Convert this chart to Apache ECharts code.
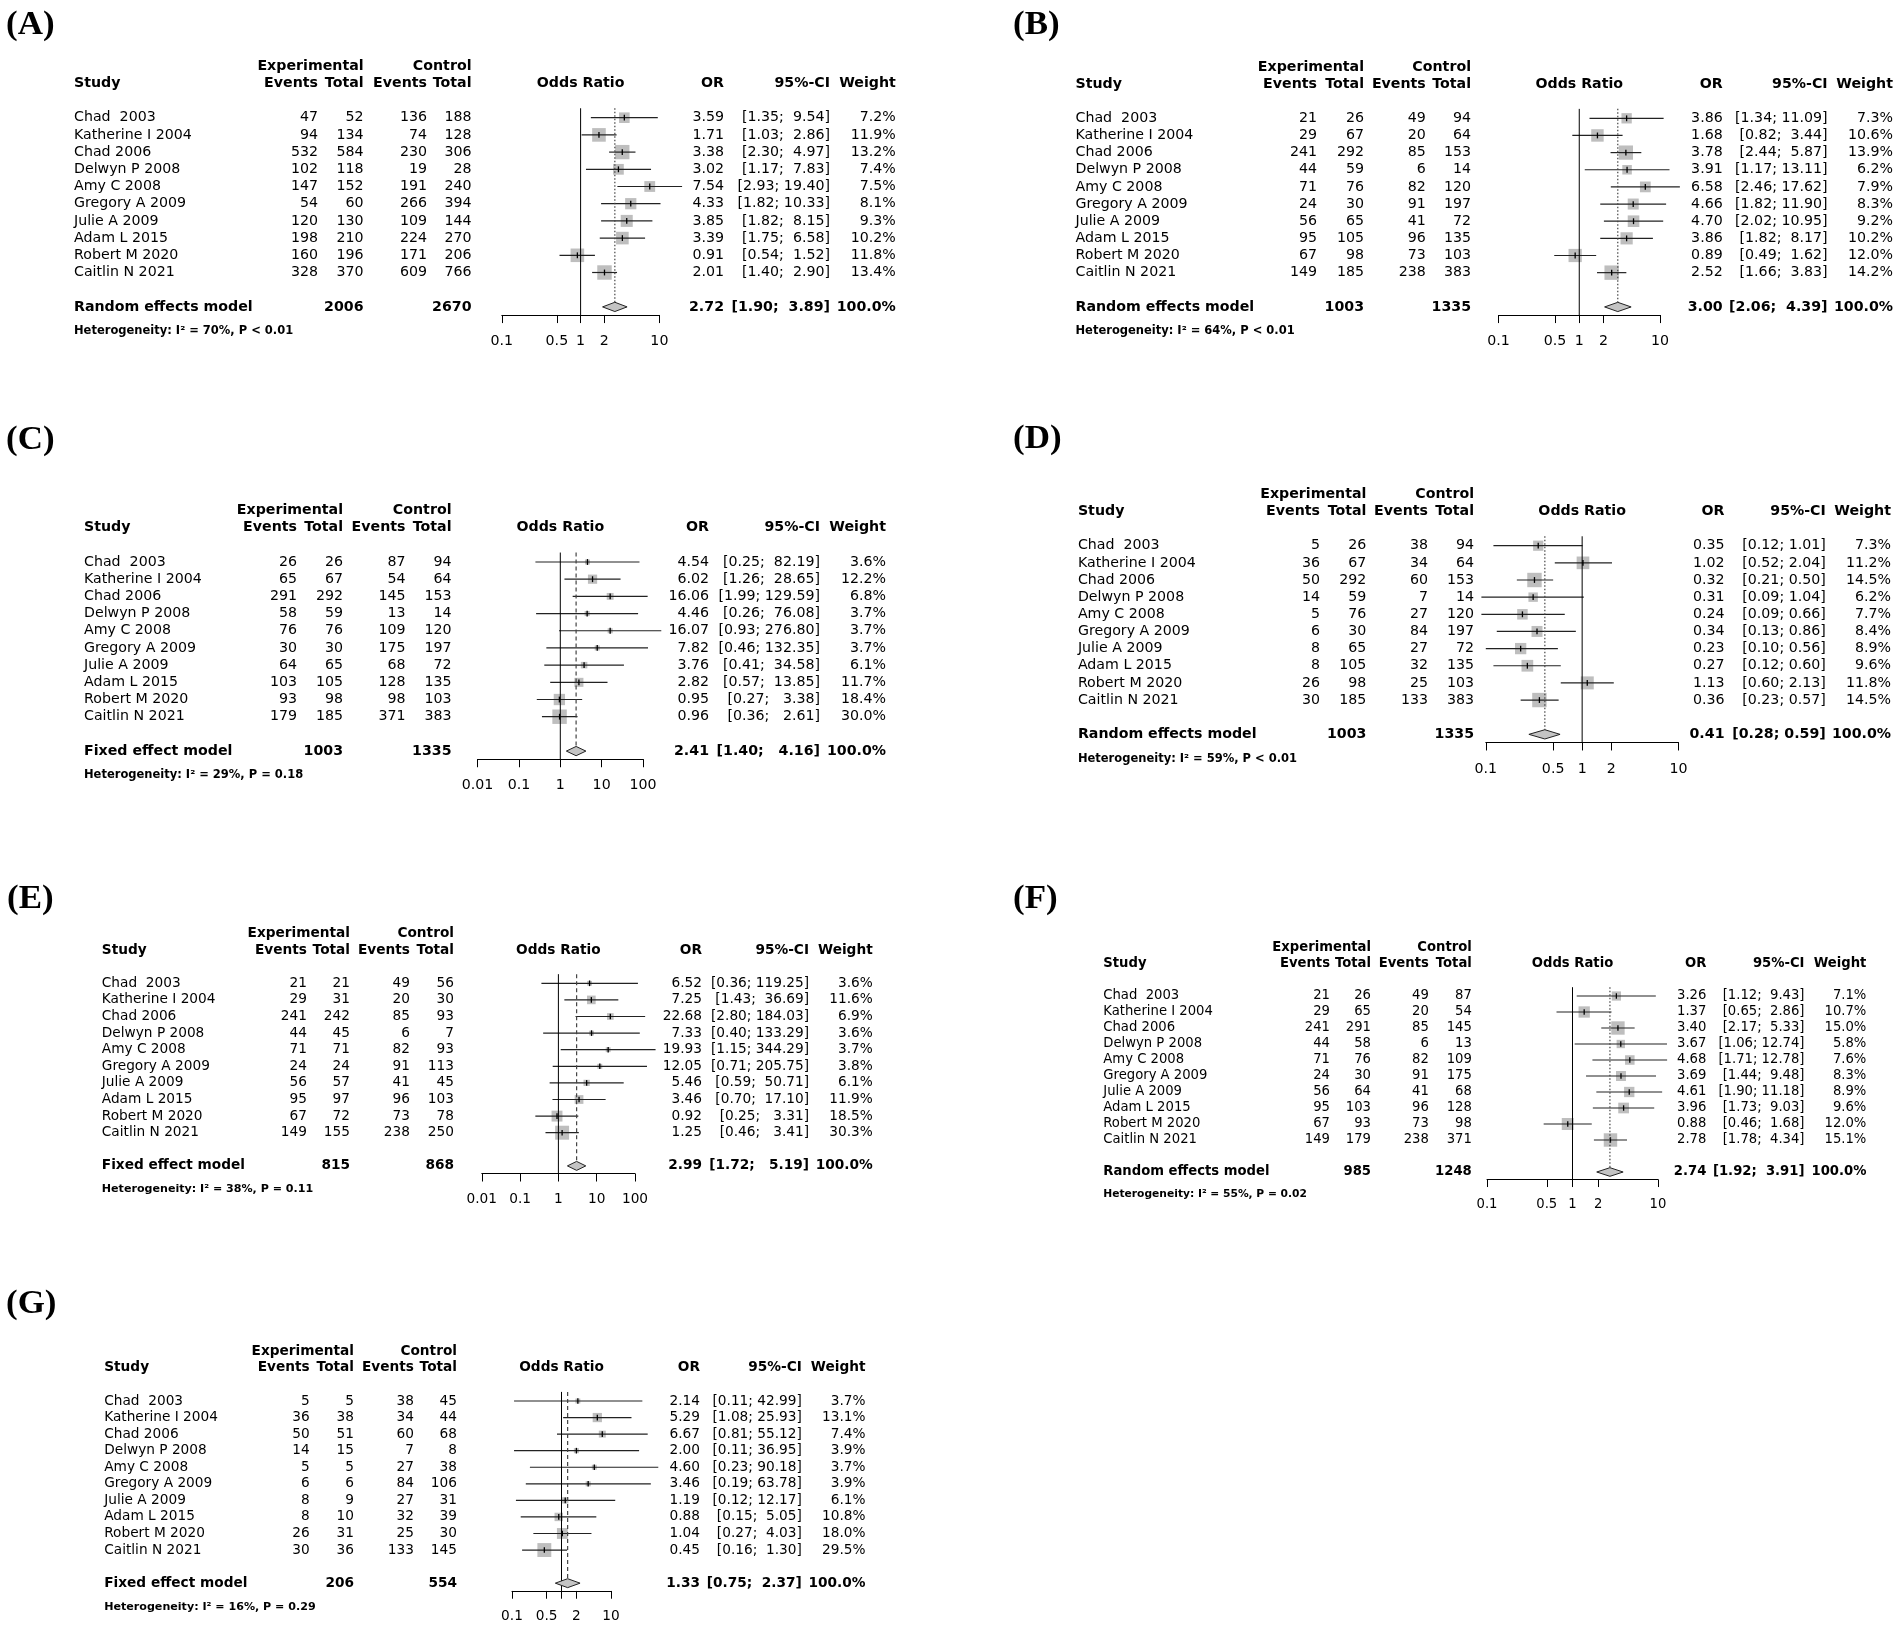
<!DOCTYPE html>
<html>
<head>
<meta charset="utf-8">
<title>Forest plots</title>
<script src="https://cdn.jsdelivr.net/npm/echarts@6/dist/echarts.min.js"></script>
<style>
  html, body { margin: 0; padding: 0; background: #fff; }
  #main { width: 1902px; height: 1628px; }
</style>
</head>
<body>
<div id="main"></div>
<script>
// ---- data ----
const studies = ['Chad  2003', 'Katherine I 2004', 'Chad 2006', 'Delwyn P 2008', 'Amy C 2008',
  'Gregory A 2009', 'Julie A 2009', 'Adam L 2015', 'Robert M 2020', 'Caitlin N 2021'];

// (A)
const A_expEvents = [47, 94, 532, 102, 147, 54, 120, 198, 160, 328];
const A_expTotal = [52, 134, 584, 118, 152, 60, 130, 210, 196, 370];
const A_ctlEvents = [136, 74, 230, 19, 191, 266, 109, 224, 171, 609];
const A_ctlTotal = [188, 128, 306, 28, 240, 394, 144, 270, 206, 766];
const A_or = [3.59, 1.71, 3.38, 3.02, 7.54, 4.33, 3.85, 3.39, 0.91, 2.01];
const A_lower = [1.35, 1.03, 2.30, 1.17, 2.93, 1.82, 1.82, 1.75, 0.54, 1.40];
const A_upper = [9.54, 2.86, 4.97, 7.83, 19.40, 10.33, 8.15, 6.58, 1.52, 2.90];
const A_weight = [7.2, 11.9, 13.2, 7.4, 7.5, 8.1, 9.3, 10.2, 11.8, 13.4];
const A_pooled = [2006, 2670, 2.72, 1.90, 3.89]; // exp total, ctl total, OR, lower, upper
const A_hetero = 'Heterogeneity: I\u00b2 = 70%, P < 0.01';

// (B)
const B_expEvents = [21, 29, 241, 44, 71, 24, 56, 95, 67, 149];
const B_expTotal = [26, 67, 292, 59, 76, 30, 65, 105, 98, 185];
const B_ctlEvents = [49, 20, 85, 6, 82, 91, 41, 96, 73, 238];
const B_ctlTotal = [94, 64, 153, 14, 120, 197, 72, 135, 103, 383];
const B_or = [3.86, 1.68, 3.78, 3.91, 6.58, 4.66, 4.70, 3.86, 0.89, 2.52];
const B_lower = [1.34, 0.82, 2.44, 1.17, 2.46, 1.82, 2.02, 1.82, 0.49, 1.66];
const B_upper = [11.09, 3.44, 5.87, 13.11, 17.62, 11.90, 10.95, 8.17, 1.62, 3.83];
const B_weight = [7.3, 10.6, 13.9, 6.2, 7.9, 8.3, 9.2, 10.2, 12.0, 14.2];
const B_pooled = [1003, 1335, 3.00, 2.06, 4.39];
const B_hetero = 'Heterogeneity: I\u00b2 = 64%, P < 0.01';

// (C)
const C_expEvents = [26, 65, 291, 58, 76, 30, 64, 103, 93, 179];
const C_expTotal = [26, 67, 292, 59, 76, 30, 65, 105, 98, 185];
const C_ctlEvents = [87, 54, 145, 13, 109, 175, 68, 128, 98, 371];
const C_ctlTotal = [94, 64, 153, 14, 120, 197, 72, 135, 103, 383];
const C_or = [4.54, 6.02, 16.06, 4.46, 16.07, 7.82, 3.76, 2.82, 0.95, 0.96];
const C_lower = [0.25, 1.26, 1.99, 0.26, 0.93, 0.46, 0.41, 0.57, 0.27, 0.36];
const C_upper = [82.19, 28.65, 129.59, 76.08, 276.80, 132.35, 34.58, 13.85, 3.38, 2.61];
const C_weight = [3.6, 12.2, 6.8, 3.7, 3.7, 3.7, 6.1, 11.7, 18.4, 30.0];
const C_pooled = [1003, 1335, 2.41, 1.40, 4.16];
const C_hetero = 'Heterogeneity: I\u00b2 = 29%, P = 0.18';

// (D)
const D_expEvents = [5, 36, 50, 14, 5, 6, 8, 8, 26, 30];
const D_expTotal = [26, 67, 292, 59, 76, 30, 65, 105, 98, 185];
const D_ctlEvents = [38, 34, 60, 7, 27, 84, 27, 32, 25, 133];
const D_ctlTotal = [94, 64, 153, 14, 120, 197, 72, 135, 103, 383];
const D_or = [0.35, 1.02, 0.32, 0.31, 0.24, 0.34, 0.23, 0.27, 1.13, 0.36];
const D_lower = [0.12, 0.52, 0.21, 0.09, 0.09, 0.13, 0.10, 0.12, 0.60, 0.23];
const D_upper = [1.01, 2.04, 0.50, 1.04, 0.66, 0.86, 0.56, 0.60, 2.13, 0.57];
const D_weight = [7.3, 11.2, 14.5, 6.2, 7.7, 8.4, 8.9, 9.6, 11.8, 14.5];
const D_pooled = [1003, 1335, 0.41, 0.28, 0.59];
const D_hetero = 'Heterogeneity: I\u00b2 = 59%, P < 0.01';

// (E)
const E_expEvents = [21, 29, 241, 44, 71, 24, 56, 95, 67, 149];
const E_expTotal = [21, 31, 242, 45, 71, 24, 57, 97, 72, 155];
const E_ctlEvents = [49, 20, 85, 6, 82, 91, 41, 96, 73, 238];
const E_ctlTotal = [56, 30, 93, 7, 93, 113, 45, 103, 78, 250];
const E_or = [6.52, 7.25, 22.68, 7.33, 19.93, 12.05, 5.46, 3.46, 0.92, 1.25];
const E_lower = [0.36, 1.43, 2.80, 0.40, 1.15, 0.71, 0.59, 0.70, 0.25, 0.46];
const E_upper = [119.25, 36.69, 184.03, 133.29, 344.29, 205.75, 50.71, 17.10, 3.31, 3.41];
const E_weight = [3.6, 11.6, 6.9, 3.6, 3.7, 3.8, 6.1, 11.9, 18.5, 30.3];
const E_pooled = [815, 868, 2.99, 1.72, 5.19];
const E_hetero = 'Heterogeneity: I\u00b2 = 38%, P = 0.11';

// (F)
const F_expEvents = [21, 29, 241, 44, 71, 24, 56, 95, 67, 149];
const F_expTotal = [26, 65, 291, 58, 76, 30, 64, 103, 93, 179];
const F_ctlEvents = [49, 20, 85, 6, 82, 91, 41, 96, 73, 238];
const F_ctlTotal = [87, 54, 145, 13, 109, 175, 68, 128, 98, 371];
const F_or = [3.26, 1.37, 3.40, 3.67, 4.68, 3.69, 4.61, 3.96, 0.88, 2.78];
const F_lower = [1.12, 0.65, 2.17, 1.06, 1.71, 1.44, 1.90, 1.73, 0.46, 1.78];
const F_upper = [9.43, 2.86, 5.33, 12.74, 12.78, 9.48, 11.18, 9.03, 1.68, 4.34];
const F_weight = [7.1, 10.7, 15.0, 5.8, 7.6, 8.3, 8.9, 9.6, 12.0, 15.1];
const F_pooled = [985, 1248, 2.74, 1.92, 3.91];
const F_hetero = 'Heterogeneity: I\u00b2 = 55%, P = 0.02';

// (G)
const G_expEvents = [5, 36, 50, 14, 5, 6, 8, 8, 26, 30];
const G_expTotal = [5, 38, 51, 15, 5, 6, 9, 10, 31, 36];
const G_ctlEvents = [38, 34, 60, 7, 27, 84, 27, 32, 25, 133];
const G_ctlTotal = [45, 44, 68, 8, 38, 106, 31, 39, 30, 145];
const G_or = [2.14, 5.29, 6.67, 2.00, 4.60, 3.46, 1.19, 0.88, 1.04, 0.45];
const G_lower = [0.11, 1.08, 0.81, 0.11, 0.23, 0.19, 0.12, 0.15, 0.27, 0.16];
const G_upper = [42.99, 25.93, 55.12, 36.95, 90.18, 63.78, 12.17, 5.05, 4.03, 1.30];
const G_weight = [3.7, 13.1, 7.4, 3.9, 3.7, 3.9, 6.1, 10.8, 18.0, 29.5];
const G_pooled = [206, 554, 1.33, 0.75, 2.37];
const G_hetero = 'Heterogeneity: I\u00b2 = 16%, P = 0.29';

// axis ticks
const ticksNarrow = [0.1, 0.5, 1, 2, 10];
const ticksWide = [0.01, 0.1, 1, 10, 100];
const labelsG = [0.1, 0.5, 2, 10];

// ---- layout (pixels) ----
const FONT = '"DejaVu Sans", "Noto Sans", sans-serif';
const panels = [
  { tag: '(A)', lab: [6, 27], sx: 74, cols: [318, 363.6, 427, 471.5], orR: 724, ciR: 830, wR: 895.8, ax: [501.8, 659.4], y0: 117.7, dy: 17.2,
    model: 'Random effects model', dash: 'dotted', ticks: ticksNarrow, labels: ticksNarrow,
    d: [A_expEvents, A_expTotal, A_ctlEvents, A_ctlTotal, A_or, A_lower, A_upper, A_weight, A_pooled, A_hetero] },
  { tag: '(B)', lab: [1013, 27], sx: 1075.5, cols: [1317, 1364, 1425.8, 1471], orR: 1722.7, ciR: 1827.6, wR: 1893, ax: [1498.5, 1660], y0: 118.3, dy: 17.15,
    model: 'Random effects model', dash: 'dotted', ticks: ticksNarrow, labels: ticksNarrow,
    d: [B_expEvents, B_expTotal, B_ctlEvents, B_ctlTotal, B_or, B_lower, B_upper, B_weight, B_pooled, B_hetero] },
  { tag: '(C)', lab: [6, 442], sx: 84, cols: [297, 343, 405.5, 451.5], orR: 709, ciR: 820, wR: 886, ax: [477.6, 643], y0: 562, dy: 17.19,
    model: 'Fixed effect model', dash: 'dashed', ticks: ticksWide, labels: ticksWide,
    d: [C_expEvents, C_expTotal, C_ctlEvents, C_ctlTotal, C_or, C_lower, C_upper, C_weight, C_pooled, C_hetero] },
  { tag: '(D)', lab: [1013, 441], sx: 1077.9, cols: [1320, 1366.4, 1428, 1474], orR: 1724.5, ciR: 1825.8, wR: 1891, ax: [1485.8, 1678.5], y0: 545.7, dy: 17.15,
    model: 'Random effects model', dash: 'dotted', ticks: ticksNarrow, labels: ticksNarrow,
    d: [D_expEvents, D_expTotal, D_ctlEvents, D_ctlTotal, D_or, D_lower, D_upper, D_weight, D_pooled, D_hetero] },
  { tag: '(E)', lab: [7, 901], sx: 101.8, cols: [307, 350, 410, 454], orR: 702, ciR: 809, wR: 872.7, ax: [481.8, 635], y0: 983.3, dy: 16.6,
    model: 'Fixed effect model', dash: 'dashed', ticks: ticksWide, labels: ticksWide,
    d: [E_expEvents, E_expTotal, E_ctlEvents, E_ctlTotal, E_or, E_lower, E_upper, E_weight, E_pooled, E_hetero] },
  { tag: '(F)', lab: [1013, 901], sx: 1103.3, cols: [1330, 1371, 1428.8, 1471.8], orR: 1706.4, ciR: 1804.5, wR: 1866.4, ax: [1487, 1658], y0: 996, dy: 16.0,
    model: 'Random effects model', dash: 'dotted', ticks: ticksNarrow, labels: ticksNarrow,
    d: [F_expEvents, F_expTotal, F_ctlEvents, F_ctlTotal, F_or, F_lower, F_upper, F_weight, F_pooled, F_hetero] },
  { tag: '(G)', lab: [6, 1306], sx: 104.2, cols: [309.7, 354, 414, 457], orR: 700, ciR: 801.8, wR: 865.5, ax: [512, 611], y0: 1401, dy: 16.56,
    model: 'Fixed effect model', dash: 'dashed', ticks: ticksNarrow, labels: labelsG,
    d: [G_expEvents, G_expTotal, G_ctlEvents, G_ctlTotal, G_or, G_lower, G_upper, G_weight, G_pooled, G_hetero] }
];

const ROW_TOP = -0.55, ROW_AXIS = 11.47, ROW_MODEL = 11, ROW_HET = 12.42;
const lg = Math.log10;

function fmtCI(lo, hi, width) {
  const h = hi.toFixed(2);
  return '[' + lo.toFixed(2) + '; ' + ' '.repeat(Math.max(0, width - h.length)) + h + ']';
}

function txt(x, y, s, align, bold, size) {
  return { type: 'text', silent: true,
    style: { x: x, y: y, text: s, align: align, verticalAlign: 'middle',
      font: (bold ? 'bold ' : '') + size + 'px ' + FONT, fill: '#000' } };
}

const grid = [], xAxis = [], yAxis = [], series = [], graphic = [];

panels.forEach(function (p, k) {
  const [expEv, expTot, ctlEv, ctlTot, or, lo, hi, wt, pooled, het] = p.d;
  const fs = +(p.dy * 0.826).toFixed(1);
  const hfs = +(p.dy * 0.67).toFixed(1);
  const wmax = Math.max.apply(null, wt);
  const maxSide = 0.84 * p.dy;
  const hiWidth = Math.max.apply(null, hi.concat([pooled[4]]).map(function (v) { return v.toFixed(2).length; }));

  grid.push({ left: p.ax[0], top: p.y0 + ROW_TOP * p.dy, width: p.ax[1] - p.ax[0],
    height: (ROW_AXIS - ROW_TOP) * p.dy, containLabel: false });
  xAxis.push({ type: 'value', gridIndex: k, min: lg(p.ticks[0]), max: lg(p.ticks[p.ticks.length - 1]),
    axisLine: { show: true, onZero: false, lineStyle: { color: '#000', width: 1 } },
    axisTick: { show: true, inside: false, length: 0.47 * p.dy, customValues: p.ticks.map(lg), lineStyle: { color: '#000', width: 1 } },
    axisLabel: { show: true, customValues: p.labels.map(lg), margin: 1.55 * p.dy - fs / 2, color: '#000',
      fontFamily: FONT, fontSize: fs,
      formatter: function (v) { return String(parseFloat(Math.pow(10, v).toPrecision(2))); } },
    splitLine: { show: false } });
  yAxis.push({ type: 'value', gridIndex: k, min: ROW_TOP, max: ROW_AXIS, inverse: true, show: false });

  // study squares + CI lines
  series.push({
    type: 'custom', xAxisIndex: k, yAxisIndex: k, silent: true, clip: false,
    data: studies.map(function (s, i) { return [lg(or[i]), i, lg(lo[i]), lg(hi[i]), wt[i]]; }),
    renderItem: function (params, api) {
      const c = api.coord([api.value(0), api.value(1)]);
      const l = api.coord([api.value(2), api.value(1)]);
      const h = api.coord([api.value(3), api.value(1)]);
      const side = maxSide * Math.sqrt(api.value(4) / wmax);
      const t = 0.17 * p.dy;
      return { type: 'group', children: [
        { type: 'rect', shape: { x: c[0] - side / 2, y: c[1] - side / 2, width: side, height: side }, style: { fill: '#bebebe' } },
        { type: 'line', shape: { x1: l[0], y1: c[1], x2: h[0], y2: c[1] }, style: { stroke: '#222', lineWidth: 1.2 } },
        { type: 'line', shape: { x1: c[0], y1: c[1] - t, x2: c[0], y2: c[1] + t }, style: { stroke: '#000', lineWidth: 1.3 } }
      ] };
    }
  });

  // reference lines + pooled diamond
  series.push({
    type: 'custom', xAxisIndex: k, yAxisIndex: k, silent: true, clip: false,
    data: [[lg(pooled[2]), ROW_MODEL, lg(pooled[3]), lg(pooled[4])]],
    renderItem: function (params, api) {
      const c = api.coord([api.value(0), api.value(1)]);
      const l = api.coord([api.value(2), api.value(1)]);
      const h = api.coord([api.value(3), api.value(1)]);
      const top = api.coord([0, ROW_TOP]);
      const bot = api.coord([0, ROW_AXIS]);
      const dh = 0.27 * p.dy;
      return { type: 'group', children: [
        { type: 'line', shape: { x1: top[0], y1: top[1], x2: bot[0], y2: bot[1] }, style: { stroke: '#000', lineWidth: 1 } },
        { type: 'line', shape: { x1: c[0], y1: top[1], x2: c[0], y2: c[1] - dh },
          style: { stroke: '#444', lineWidth: 1.2, lineDash: p.dash === 'dotted' ? [1.5, 2] : [4, 3] } },
        { type: 'polygon', shape: { points: [[l[0], c[1]], [c[0], c[1] - dh], [h[0], c[1]], [c[0], c[1] + dh]] },
          style: { fill: '#c4c4c4', stroke: '#222', lineWidth: 1 } }
      ] };
    }
  });

  // text table
  const midX = (p.ax[0] + p.ax[1]) / 2;
  const rows = [];
  rows.push({ r: -3, items: [[p.cols[1], 'Experimental', 'right', 1], [p.cols[3], 'Control', 'right', 1]] });
  rows.push({ r: -2, items: [[p.sx, 'Study', 'left', 1], [p.cols[0], 'Events', 'right', 1], [p.cols[1], 'Total', 'right', 1],
    [p.cols[2], 'Events', 'right', 1], [p.cols[3], 'Total', 'right', 1], [midX, 'Odds Ratio', 'center', 1],
    [p.orR, 'OR', 'right', 1], [p.ciR, '95%-CI', 'right', 1], [p.wR, 'Weight', 'right', 1]] });
  studies.forEach(function (s, i) {
    rows.push({ r: i, items: [[p.sx, s, 'left', 0], [p.cols[0], String(expEv[i]), 'right', 0], [p.cols[1], String(expTot[i]), 'right', 0],
      [p.cols[2], String(ctlEv[i]), 'right', 0], [p.cols[3], String(ctlTot[i]), 'right', 0],
      [p.orR, or[i].toFixed(2), 'right', 0], [p.ciR, fmtCI(lo[i], hi[i], hiWidth), 'right', 0],
      [p.wR, wt[i].toFixed(1) + '%', 'right', 0]] });
  });
  rows.push({ r: ROW_MODEL, items: [[p.sx, p.model, 'left', 1], [p.cols[1], String(pooled[0]), 'right', 1],
    [p.cols[3], String(pooled[1]), 'right', 1], [p.orR, pooled[2].toFixed(2), 'right', 1],
    [p.ciR, fmtCI(pooled[3], pooled[4], hiWidth), 'right', 1], [p.wR, '100.0%', 'right', 1]] });
  rows.push({ r: ROW_HET, items: [[p.sx, het, 'left', 1]], small: true });

  series.push({
    type: 'custom', xAxisIndex: k, yAxisIndex: k, silent: true, clip: false,
    data: rows.map(function (row) { return [0, row.r]; }),
    renderItem: function (params, api) {
      const row = rows[params.dataIndex];
      const y = api.coord([0, api.value(1)])[1];
      return { type: 'group', children: row.items.map(function (it) {
        return txt(it[0], y, it[1], it[2], it[3], row.small ? hfs : fs);
      }) };
    }
  });

  // panel letter
  graphic.push({ type: 'text', x: p.lab[0], y: p.lab[1] - 2, scaleX: 1.06, silent: true,
    style: { x: 0, y: 0, text: p.tag, align: 'left', verticalAlign: 'middle',
      font: 'bold 33px "Liberation Serif", "Times New Roman", serif', fill: '#000' } });
});

const chart = echarts.init(document.getElementById('main'), null, { renderer: 'canvas' });
chart.setOption({
  animation: false,
  backgroundColor: '#fff',
  grid: grid,
  xAxis: xAxis,
  yAxis: yAxis,
  series: series,
  graphic: graphic
});
</script>
</body>
</html>
